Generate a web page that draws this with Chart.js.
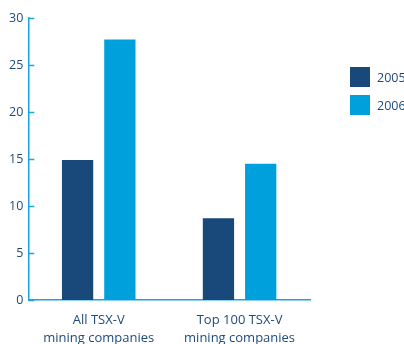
<!DOCTYPE html>
<html>
<head>
<meta charset="utf-8">
<script src="https://cdn.jsdelivr.net/npm/chart.js@4"></script>
<style>
  body { margin: 0; background: #fff; }
  #wrap { position: relative; width: 404px; height: 344px; }
  #legend { position: absolute; left: 350px; top: 67px; font-family: "Open Sans", sans-serif; font-size: 12.5px; color: #1d4a7c; }
  #legend div { display: flex; align-items: center; height: 20px; margin-bottom: 8px; }
  #legend span { display: inline-block; width: 20px; height: 20px; margin-right: 7px; }
</style>
</head>
<body>
<div id="wrap">
  <canvas id="chart" width="404" height="344"></canvas>
  <div id="legend"></div>
</div>
<script>
// data
const categories = [["All TSX-V", "mining companies"], ["Top 100 TSX-V", "mining companies"]];
const seriesLabels = ["2005", "2006"];
const values2005 = [14.9, 8.7];
const values2006 = [27.7, 14.5];
const yTicks = [0, 5, 10, 15, 20, 25, 30];

const colors = ["#19497a", "#00a0dc"];
const axisColor = "#1aa5de";
const textColor = "#1d4a7c";

// little tick marks pointing into the plot, like the original
const innerTicks = {
    id: "innerTicks",
    afterDraw(chart) {
        const ctx = chart.ctx;
        const y = chart.scales.y;
        const left = chart.chartArea.left;
        ctx.save();
        ctx.strokeStyle = axisColor;
        ctx.lineWidth = 1.5;
        y.ticks.forEach(t => {
            const py = Math.round(y.getPixelForValue(t.value)) + 0.5;
            ctx.beginPath();
            ctx.moveTo(left, py);
            ctx.lineTo(left + 6, py);
            ctx.stroke();
        });
        ctx.restore();
    }
};

const ctx = document.getElementById("chart").getContext("2d");
const chart = new Chart(ctx, {
    type: "bar",
    data: {
        labels: categories,
        datasets: [
            { label: seriesLabels[0], data: values2005, backgroundColor: colors[0] },
            { label: seriesLabels[1], data: values2006, backgroundColor: colors[1] }
        ]
    },
    options: {
        responsive: false,
        animation: false,
        categoryPercentage: 0.6,
        barPercentage: 0.74,
        layout: { padding: { left: 4, right: 94, top: 18, bottom: 0 } },
        plugins: { legend: { display: false }, tooltip: { enabled: false } },
        scales: {
            x: {
                afterFit: s => { s.height = 44; },
                grid: { display: false, drawTicks: false },
                border: { color: axisColor, width: 1.5 },
                ticks: { color: textColor, font: { family: "Open Sans", size: 13, lineHeight: 1.33 }, padding: 12, maxRotation: 0 }
            },
            y: {
                min: 0,
                max: 30,
                afterBuildTicks: s => { s.ticks = yTicks.map(v => ({ value: v })); },
                grid: { display: false, drawTicks: false },
                border: { color: axisColor, width: 1.5 },
                ticks: { color: textColor, font: { family: "Open Sans", size: 12.5 }, padding: 5 }
            }
        }
    },
    plugins: [innerTicks]
});

// legend
const legend = document.getElementById("legend");
seriesLabels.forEach((l, i) => {
    legend.innerHTML += `<div><span style="background:${colors[i]}"></span>${l}</div>`;
});
</script>
</body>
</html>
